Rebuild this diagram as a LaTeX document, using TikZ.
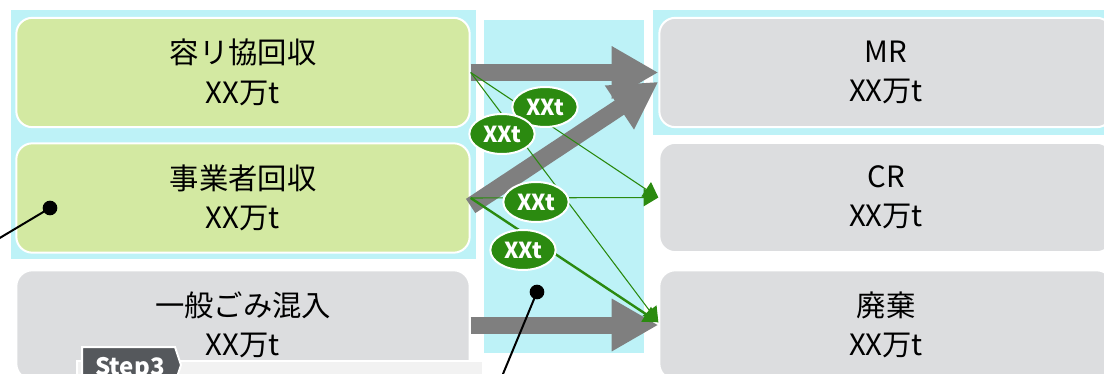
\documentclass[tikz,border=0pt]{standalone}
\usepackage{fontspec}
\setmainfont{Noto Sans CJK JP}
\usetikzlibrary{arrows.meta,shapes.geometric}
\definecolor{bgcyan}{HTML}{BDF2F7}
\definecolor{boxgreen}{HTML}{D3E9A2}
\definecolor{boxgray}{HTML}{DCDDDF}
\definecolor{flowgray}{HTML}{7F7F7F}
\definecolor{flowgreen}{HTML}{2B8A10}
\definecolor{taggray}{HTML}{55585C}
\definecolor{panelgray}{HTML}{F2F2F2}
\begin{document}
\begin{tikzpicture}[x=0.75pt,y=-0.75pt,
    flowbox/.style={draw=white,line width=1.5pt,rounded corners=12pt,
      minimum width=340pt,minimum height=82pt,inner sep=0pt,
      align=center,font=\fontsize{22}{29.5}\selectfont},
    amount/.style={ellipse,fill=flowgreen,draw=white,line width=1.5pt,
      text=white,minimum width=49pt,minimum height=30pt,inner sep=0pt,
      font=\bfseries\fontsize{16.5}{16.5}\selectfont},
    flowarrow/.style={flowgray,line width=12.75pt,
      -{Triangle[length=35pt,width=37pt]}},
    greenline/.style={flowgreen,line width=0.8pt,
      -{Triangle[length=11pt,width=13pt]}},
    callout/.style={line width=1.5pt}]
  \useasboundingbox (0,0) rectangle (1104,374);
  % backgrounds
  \fill[bgcyan] (11,10) rectangle (476,259);
  \fill[bgcyan] (484,20) rectangle (644,353);
  \fill[bgcyan] (653,10) rectangle (1112,135);
  % sources
  \node[flowbox,fill=boxgreen] (yoriko) at (243,72.5) {容リ協回収\\XX万t};
  \node[flowbox,fill=boxgreen] (jigyo) at (243,198) {事業者回収\\XX万t};
  \node[flowbox,fill=boxgray] (ippan) at (243,325) {一般ごみ混入\\XX万t};
  % destinations
  \node[flowbox,fill=boxgray] (mr) at (886,72.5) {MR\\XX万t};
  \node[flowbox,fill=boxgray] (cr) at (886,197.5) {CR\\XX万t};
  \node[flowbox,fill=boxgray] (haiki) at (886,325) {廃棄\\XX万t};
  % main flows
  \draw[flowarrow] (yoriko.east) -- (mr.west);
  \draw[flowarrow] ([yshift=-6pt]jigyo.east) -- ([yshift=-7pt]mr.west);
  \draw[flowarrow] (ippan.east) -- (haiki.west);
  % small flows
  \draw[greenline] (yoriko.east) -- (cr.west);
  \draw[greenline] (yoriko.east) -- ([yshift=2pt]haiki.west);
  \draw[greenline] (jigyo.east) -- (cr.west);
  \draw[greenline,line width=1.8pt] (jigyo.east) -- ([yshift=2pt]haiki.west);
  \node[amount] (yr2cr) at (545,107) {XXt};
  \node[amount] (yr2hk) at (502,134) {XXt};
  \node[amount] (jg2cr) at (536,202) {XXt};
  \node[amount] (jg2hk) at (523,250) {XXt};
  % step panel
  \filldraw[fill=panelgray,draw=white,line width=1pt] (77,361) rectangle (483,395);
  \filldraw[fill=taggray,draw=white,line width=1.5pt]
    (82,347) -- (175,347) -- (181,365) -- (175,383) -- (82,383) -- cycle;
  \node[anchor=base west,text=white,inner sep=0pt,
    font=\bfseries\fontsize{18}{18}\selectfont] (step) at (95,375) {Step3};
  % callouts
  \coordinate (d1) at (50,208);
  \coordinate (e1) at (-12,245);
  \draw[callout] (d1) -- (e1);
  \fill (d1) circle (5.5pt);
  \coordinate (d2) at (537,292);
  \coordinate (e2) at (498,386);
  \draw[callout] (d2) -- (e2);
  \fill (d2) circle (5.5pt);
\end{tikzpicture}
\end{document}
